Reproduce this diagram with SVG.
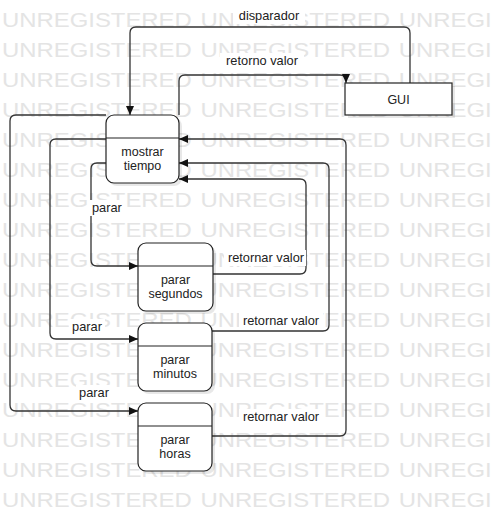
<svg xmlns="http://www.w3.org/2000/svg" xmlns:xlink="http://www.w3.org/1999/xlink" width="492" height="511" viewBox="0 0 492 511">
<style>
.wm{font-family:"Liberation Sans",Arial,sans-serif;font-size:20px;fill:#e4e4e4}
.node{fill:#fff;stroke:#222;stroke-width:1.2}
.shadow{fill:#000;fill-opacity:0.09}
.div{stroke:#222;stroke-width:1.2}
.t{font-family:"Liberation Sans",Arial,sans-serif;font-size:12.5px;fill:#222;text-anchor:middle}
.lbl{font-family:"Liberation Sans",Arial,sans-serif;font-size:12.8px;fill:#222}
.lbg{fill:#fff}
.edge{fill:none;stroke:#333;stroke-width:1.3}
</style>
<defs>
<marker id="arr" markerUnits="userSpaceOnUse" markerWidth="10" markerHeight="10" refX="9" refY="4" orient="auto">
<path d="M0,0 L9,4 L0,8 z" fill="#111"/>
</marker>
<text id="wmrow" class="wm" y="0"><tspan x="1.7">UNREGISTERED</tspan><tspan x="167.7">UNREGISTERED</tspan><tspan x="333.7">UNREGISTERED</tspan></text>
</defs>
<rect width="492" height="511" fill="#fff"/>
<g id="watermark" transform="scale(1.195 1)">
<use xlink:href="#wmrow" y="27.3"/>
<use xlink:href="#wmrow" y="57.3"/>
<use xlink:href="#wmrow" y="87.3"/>
<use xlink:href="#wmrow" y="117.3"/>
<use xlink:href="#wmrow" y="147.3"/>
<use xlink:href="#wmrow" y="177.3"/>
<use xlink:href="#wmrow" y="207.3"/>
<use xlink:href="#wmrow" y="237.3"/>
<use xlink:href="#wmrow" y="267.3"/>
<use xlink:href="#wmrow" y="297.3"/>
<use xlink:href="#wmrow" y="327.3"/>
<use xlink:href="#wmrow" y="357.3"/>
<use xlink:href="#wmrow" y="387.3"/>
<use xlink:href="#wmrow" y="417.3"/>
<use xlink:href="#wmrow" y="447.3"/>
<use xlink:href="#wmrow" y="477.3"/>
<use xlink:href="#wmrow" y="507.3"/>
</g>
<g id="connectors">
<path class="edge" d="M410,83 L410,33 Q410,27 404,27 L136,27 Q130,27 130,33 L130,115" marker-end="url(#arr)"/>
<path class="edge" d="M179,115 L179,81 Q179,75 185,75 L340,75 Q346,75 346,81 L346,83" marker-end="url(#arr)"/>
<path class="edge" d="M106,163 L97,163 Q91,163 91,169 L91,260 Q91,266 97,266 L138,266" marker-end="url(#arr)"/>
<path class="edge" d="M106,139 L56,139 Q50,139 50,145 L50,333 Q50,339 56,339 L138,339" marker-end="url(#arr)"/>
<path class="edge" d="M106,115 L16,115 Q10,115 10,121 L10,405 Q10,411 16,411 L138,411" marker-end="url(#arr)"/>
<path class="edge" d="M213,274 L300,274 Q306,274 306,268 L306,185 Q306,179 300,179 L179,179" marker-end="url(#arr)"/>
<path class="edge" d="M212,331 L323,331 Q329,331 329,325 L329,169 Q329,163 323,163 L179,163" marker-end="url(#arr)"/>
<path class="edge" d="M212,436 L340,436 Q346,436 346,430 L346,145 Q346,139 340,139 L179,139" marker-end="url(#arr)"/>
<rect class="lbg" x="233" y="8" width="72" height="16"/>
<text class="lbl" x="269" y="20" text-anchor="middle">disparador</text>
<rect class="lbg" x="220" y="53" width="84" height="16"/>
<text class="lbl" x="262" y="64.5" text-anchor="middle">retorno valor</text>
<rect class="lbg" x="89" y="200" width="36" height="16"/>
<text class="lbl" x="92" y="211.5">parar</text>
<rect class="lbg" x="69" y="319" width="36" height="16"/>
<text class="lbl" x="87" y="330.5" text-anchor="middle">parar</text>
<rect class="lbg" x="76" y="385" width="36" height="16"/>
<text class="lbl" x="94" y="396.5" text-anchor="middle">parar</text>
<rect class="lbg" x="224" y="250" width="82" height="16"/>
<text class="lbl" x="266" y="261.5" text-anchor="middle">retornar valor</text>
<rect class="lbg" x="239" y="313" width="84" height="16"/>
<text class="lbl" x="281" y="324.5" text-anchor="middle">retornar valor</text>
<rect class="lbg" x="239" y="409" width="84" height="16"/>
<text class="lbl" x="281" y="420.5" text-anchor="middle">retornar valor</text>
</g>
<g id="gui">
<rect class="shadow" x="348" y="86" width="107" height="32"/>
<rect class="node" x="345" y="83" width="107" height="32"/>
<text class="t" x="398.5" y="104">GUI</text>
</g>
<g id="mostrar-tiempo">
<rect class="shadow" x="109" y="118" width="73" height="68" rx="8"/>
<rect class="node" x="106" y="115" width="73" height="68" rx="8"/>
<line class="div" x1="106" y1="138" x2="179" y2="138"/>
<text class="t" x="142.5" y="155.5">mostrar</text>
<text class="t" x="142.5" y="170">tiempo</text>
</g>
<g id="parar-segundos">
<rect class="shadow" x="141" y="246" width="75" height="68" rx="8"/>
<rect class="node" x="138" y="243" width="75" height="68" rx="8"/>
<line class="div" x1="138" y1="266" x2="213" y2="266"/>
<text class="t" x="175.5" y="283.5">parar</text>
<text class="t" x="175.5" y="298">segundos</text>
</g>
<g id="parar-minutos">
<rect class="shadow" x="141" y="326" width="74" height="68" rx="8"/>
<rect class="node" x="138" y="323" width="74" height="68" rx="8"/>
<line class="div" x1="138" y1="346" x2="212" y2="346"/>
<text class="t" x="175" y="363.5">parar</text>
<text class="t" x="175" y="378">minutos</text>
</g>
<g id="parar-horas">
<rect class="shadow" x="141" y="406" width="74" height="68" rx="8"/>
<rect class="node" x="138" y="403" width="74" height="68" rx="8"/>
<line class="div" x1="138" y1="426" x2="212" y2="426"/>
<text class="t" x="175" y="443.5">parar</text>
<text class="t" x="175" y="458">horas</text>
</g>
</svg>
